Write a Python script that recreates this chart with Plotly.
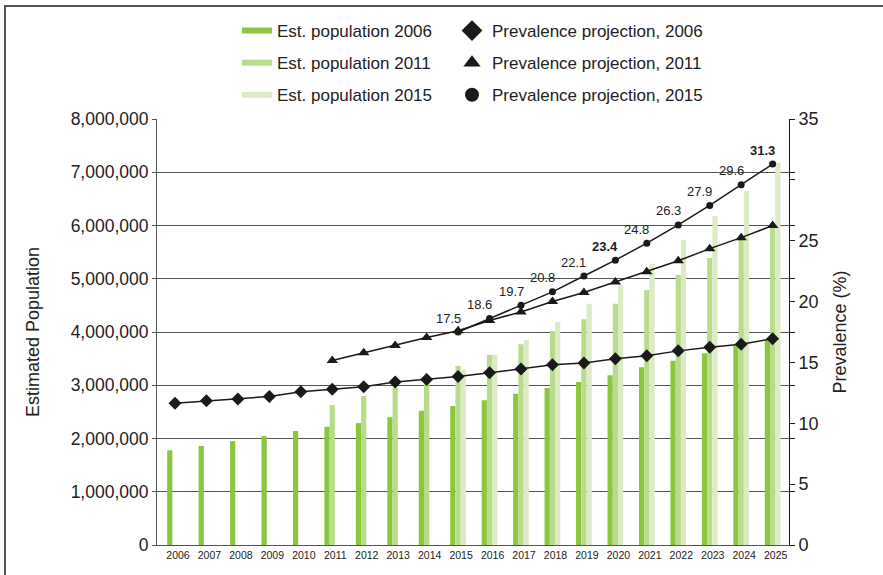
import plotly.graph_objects as go

years = [str(y) for y in range(2006, 2026)]

# Estimated population (persons)
pop_2006 = [1780000, 1860000, 1950000, 2050000, 2140000, 2220000, 2290000, 2400000, 2520000, 2610000,
            2720000, 2840000, 2950000, 3060000, 3190000, 3340000, 3460000, 3600000, 3740000, 3860000]
pop_2011 = [None] * 5 + [2630000, 2800000, 2960000, 3140000, 3360000, 3570000, 3770000, 4020000, 4240000,
                         4530000, 4790000, 5070000, 5390000, 5730000, 6040000]
pop_2015 = [None] * 9 + [3290000, 3570000, 3850000, 4190000, 4530000, 4880000, 5280000, 5730000, 6180000,
                         6650000, 7180000]

# Prevalence projections (%)
prev_2006 = [11.65, 11.85, 12.0, 12.2, 12.6, 12.8, 13.0, 13.4, 13.6, 13.85,
             14.15, 14.45, 14.8, 14.95, 15.3, 15.55, 15.95, 16.25, 16.5, 16.95]
prev_2011 = [None] * 5 + [15.15, 15.8, 16.4, 17.05, 17.6, 18.45, 19.15, 20.0, 20.75, 21.6,
                          22.45, 23.35, 24.35, 25.25, 26.25]
prev_2015 = [None] * 9 + [17.5, 18.6, 19.7, 20.8, 22.1, 23.4, 24.8, 26.3, 27.9, 29.6, 31.3]
bold_label_years = ['2020', '2025']

left_ticks = list(range(0, 8000001, 1000000))
right_ticks = [0, 5, 10, 15, 20, 25, 30, 35]
right_ticktext = ['0', '5', '10', '15', '20', '25', '', '35']

W, H = 883, 575
ML, MR, MT, MB = 157, 94, 119, 30
PW, PH = W - ML - MR, H - MT - MB


def px(xp):
    return (xp - ML) / PW


def py(yp):
    return (H - MB - yp) / PH


FONT = "Liberation Sans, Arial, sans-serif"
C1, C2, C3 = '#8CC63F', '#B9DC8C', '#DCEBC5'
BLACK = '#1a1a1a'

fig = go.Figure()

for name, vals, col in [('Est. population 2006', pop_2006, C1),
                        ('Est. population 2011', pop_2011, C2),
                        ('Est. population 2015', pop_2015, C3)]:
    fig.add_trace(go.Bar(x=years, y=vals, name=name, marker=dict(color=col, line=dict(width=0)),
                         showlegend=False, yaxis='y'))

line_specs = [('Prevalence projection, 2006', prev_2006, 'diamond', 10, 16),
              ('Prevalence projection, 2011', prev_2011, 'triangle-up', 10, 15),
              ('Prevalence projection, 2015', prev_2015, 'circle', 7, 14)]
for name, vals, sym, ms, lms in line_specs:
    fig.add_trace(go.Scatter(x=years, y=vals, name=name, mode='lines+markers', yaxis='y2',
                             line=dict(color=BLACK, width=1.5),
                             marker=dict(symbol=sym, size=ms, color=BLACK),
                             showlegend=False, connectgaps=False))

# legend entries
for i, (name, col) in enumerate([('Est. population 2006', C1), ('Est. population 2011', C2),
                                 ('Est. population 2015', C3)]):
    fig.add_trace(go.Scatter(x=[None], y=[None], name=name, mode='lines',
                             line=dict(color=col, width=6), legend='legend',
                             legendgroup='a%d' % i))
for i, (name, vals, sym, ms, lms) in enumerate(line_specs):
    fig.add_trace(go.Scatter(x=[None], y=[None], name=name, mode='markers',
                             marker=dict(symbol=sym, size=lms, color=BLACK), legend='legend2',
                             legendgroup='b%d' % i, yaxis='y2'))

annotations = []
for idx, (yr, v) in enumerate(zip(years, prev_2015)):
    if v is None:
        continue
    txt = '%.1f' % v
    if yr in bold_label_years:
        txt = '<b>%s</b>' % txt
    annotations.append(dict(x=idx, y=v, xref='x', yref='y2', text=txt, showarrow=False,
                            xshift=-10, yshift=14, font=dict(size=13, color='#222', family=FONT)))

shapes = [
    dict(type='line', xref='paper', yref='paper', x0=px(4), x1=px(883), y0=py(6), y1=py(6),
         line=dict(color='#555', width=2), layer='above'),
    dict(type='line', xref='paper', yref='paper', x0=px(5), x1=px(5), y0=py(5), y1=py(575),
         line=dict(color='#555', width=2), layer='above'),
]

fig.update_layout(
    width=W, height=H,
    margin=dict(l=ML, r=MR, t=MT, b=MB),
    paper_bgcolor='white', plot_bgcolor='white',
    font=dict(family=FONT, color='#222'),
    barmode='group', bargap=0.5, bargroupgap=0,
    xaxis=dict(type='category', range=[-0.572, 19.52], showgrid=False, showline=True,
               linecolor='#555', linewidth=1, ticks='', tickfont=dict(size=10.5, color='#222'),
               ticklabelshift=3, zeroline=False, fixedrange=True),
    yaxis=dict(range=[0, 8000000], tickvals=left_ticks, tickformat=',', showgrid=True,
               gridcolor='#555', gridwidth=1, showline=True, linecolor='#555', linewidth=1,
               ticks='outside', ticklen=4, tickcolor='#555', tickfont=dict(size=17.5, color='#222'),
               zeroline=False,
               title=dict(text='Estimated Population', font=dict(size=18, color='#222'), standoff=26)),
    yaxis2=dict(range=[0, 35], overlaying='y', side='right', tickvals=right_ticks,
                ticktext=right_ticktext, showgrid=False, showline=True, linecolor=BLACK, linewidth=1,
                ticks='outside', ticklen=5, tickcolor=BLACK, tickfont=dict(size=18, color='#222'),
                zeroline=False,
                minor=dict(tickmode='linear', tick0=0, dtick=4.375, ticks='outside', ticklen=5,
                           tickcolor=BLACK, showgrid=False),
                title=dict(text='Prevalence (%)', font=dict(size=18, color='#222'), standoff=15)),
    legend=dict(x=px(237), y=py(13), xanchor='left', yanchor='top', bgcolor='rgba(0,0,0,0)',
                font=dict(size=17, color='#222', family=FONT), tracegroupgap=7,
                orientation='v'),
    legend2=dict(x=px(452), y=py(13), xanchor='left', yanchor='top', bgcolor='rgba(0,0,0,0)',
                 font=dict(size=17, color='#222', family=FONT), tracegroupgap=7,
                 orientation='v'),
    annotations=annotations,
    shapes=shapes,
)

fig.write_html("out.html", config={'displayModeBar': False},
               post_script="document.body.style.margin='0px';")
